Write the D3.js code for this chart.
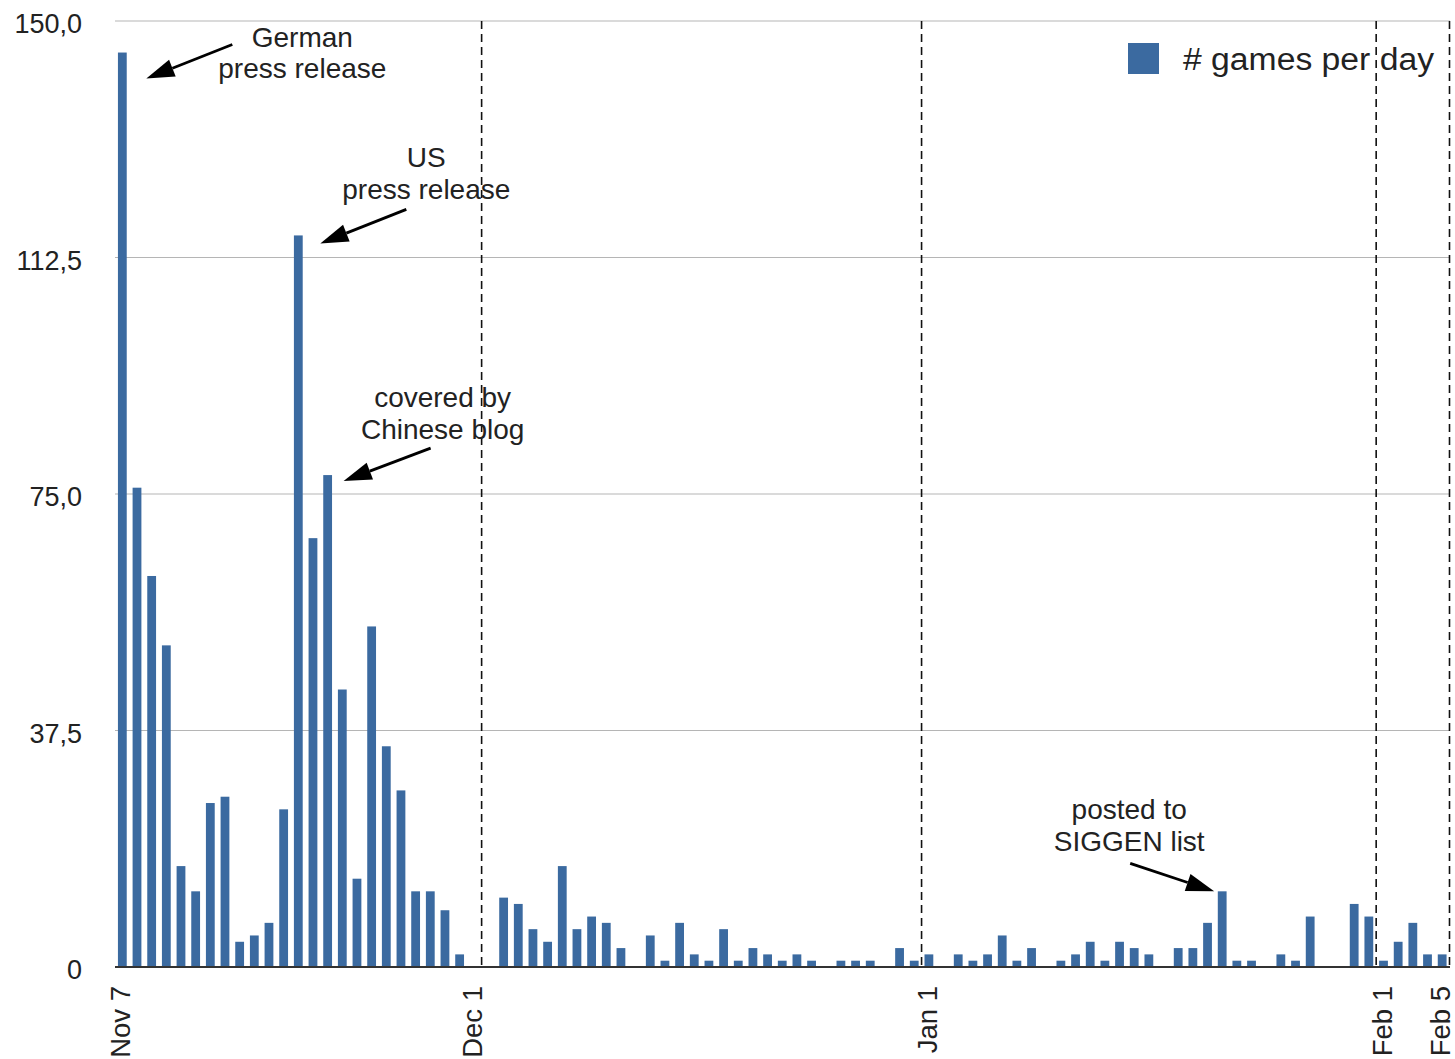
<!DOCTYPE html>
<html><head><meta charset="utf-8">
<script src="https://cdn.jsdelivr.net/npm/d3@7"></script>
<style>
html,body{margin:0;padding:0;background:#fff;}
svg{display:block;}
text{font-family:"Liberation Sans",Arial,Helvetica,sans-serif;fill:#222;}
</style>
</head><body>
<svg id="chart" width="1455" height="1059"></svg>
<script>
// ---- data ----
const novCounts = [145,76,62,51,16,12,26,27,4,5,7,25,116,68,78,44,14,54,35,28,12,12,9,2];
const decCounts = [0,0,11,10,6,4,16,6,8,7,3,0,5,1,7,2,1,6,1,3,2,1,2,1,0,1,1,1,0,3,1];
const janCounts = [2,0,2,1,2,5,1,3,0,1,2,4,1,4,3,2,0,3,3,7,12,1,1,0,2,1,8,0,0,10,8];
const febCounts = [1,4,7,2,2];
const firstDay = new Date(2009,10,7), lastDay = new Date(2010,1,5);
const xTickLabels = ["Nov 7","Dec 1","Jan 1","Feb 1","Feb 5"];
const yTicks = [0,37.5,75,112.5,150];
const yTickLabels = ["0","37,5","75,0","112,5","150,0"];
const dividerAfter = ["Dec 1","Dec 31","Jan 31","Feb 5"];
const seriesName = "# games per day";
const annotations = [
  {day:"Nov 7",  lines:["German","press release"]},
  {day:"Nov 19", lines:["US","press release"]},
  {day:"Nov 21", lines:["covered by","Chinese blog"]},
  {day:"Jan 21", lines:["posted to","SIGGEN list"]}
];

// ---- layout ----
const fmt = d3.timeFormat("%b %-d");
const days = d3.timeDay.range(firstDay, d3.timeDay.offset(lastDay,1)).map(fmt);
const counts = novCounts.concat(decCounts, janCounts, febCounts);
const data = days.map((d,i)=>({day:d, value:counts[i]}));

const plotLeft = 115, plotRight = 1449.5, plotTop = 21, plotBottom = 967;
const x = d3.scaleBand().domain(days).range([plotLeft,plotRight]).paddingInner(0.4).paddingOuter(0.2);
const y = d3.scaleLinear().domain([0,150]).range([plotBottom,plotTop]);
const bw = x.bandwidth(), step = x.step();
const cx = d => x(d) + bw/2;

const svg = d3.select("#chart");

// grid lines
svg.append("g").selectAll("line").data(yTicks.filter(t=>t>0)).join("line")
  .attr("x1",plotLeft).attr("x2",1450).attr("y1",d=>y(d)).attr("y2",d=>y(d))
  .attr("stroke","#b5b5b5").attr("stroke-width",1.2);

// bars
svg.append("g").selectAll("rect").data(data.filter(d=>d.value>0)).join("rect")
  .attr("x",d=>x(d.day)).attr("width",bw)
  .attr("y",d=>y(d.value)).attr("height",d=>y(0)-y(d.value))
  .attr("fill","#3b6aa0");

// dividers
svg.append("g").selectAll("line").data(dividerAfter).join("line")
  .attr("x1",d=>x(d)+bw+(step-bw)/2).attr("x2",d=>x(d)+bw+(step-bw)/2)
  .attr("y1",plotTop).attr("y2",plotBottom)
  .attr("stroke","#111").attr("stroke-width",1.6).attr("stroke-dasharray","8,5");

// zero axis line
svg.append("line").attr("x1",plotLeft).attr("x2",1450).attr("y1",y(0)).attr("y2",y(0))
  .attr("stroke","#333").attr("stroke-width",2);

// y labels
svg.append("g").selectAll("text").data(yTicks).join("text")
  .attr("x",82).attr("y",d=>y(d)).attr("dy","0.45em")
  .attr("text-anchor","end").attr("font-size",27)
  .text((d,i)=>yTickLabels[i]);

// x labels
svg.append("g").selectAll("text").data(xTickLabels).join("text")
  .attr("transform",d=>`translate(${cx(d)+8},986) rotate(-90)`)
  .attr("text-anchor","end").attr("font-size",27.5)
  .text(d=>d);

// legend
svg.append("rect").attr("x",1128).attr("y",43).attr("width",31).attr("height",31).attr("fill","#3b6aa0");
svg.append("text").attr("x",1183).attr("y",70).attr("font-size",31)
  .attr("textLength",251).attr("lengthAdjust","spacingAndGlyphs").text(seriesName);

// annotations (offsets relative to the target bar top)
const annotationLayout = [
  {tip:[24,26],  tail:[110,-8],  text:[180,-6]},
  {tip:[22,8],   tail:[108,-26], text:[128,-68]},
  {tip:[16,6],   tail:[103,-27], text:[115,-68]},
  {tip:[-8,0],   tail:[-92,-28], text:[-93,-72]}
];
const valueOf = d => counts[days.indexOf(d)];
const ag = svg.append("g");
annotations.forEach((a,i)=>{
  const L = annotationLayout[i];
  const bx = cx(a.day), by = y(valueOf(a.day));
  const tip = [bx+L.tip[0], by+L.tip[1]], tail = [bx+L.tail[0], by+L.tail[1]];
  const ang = Math.atan2(tip[1]-tail[1], tip[0]-tail[0]);
  const hl = 28, hw = 9;
  const base = [tip[0]-hl*Math.cos(ang), tip[1]-hl*Math.sin(ang)];
  ag.append("line").attr("x1",tail[0]).attr("y1",tail[1]).attr("x2",base[0]).attr("y2",base[1])
    .attr("stroke","#000").attr("stroke-width",2.8);
  const p1 = [base[0]+hw*Math.sin(ang), base[1]-hw*Math.cos(ang)];
  const p2 = [base[0]-hw*Math.sin(ang), base[1]+hw*Math.cos(ang)];
  ag.append("path").attr("d",`M${tip}L${p1}L${p2}Z`).attr("fill","#000");
  ag.selectAll(null).data(a.lines).join("text")
    .attr("x",bx+L.text[0]).attr("y",(d,j)=>by+L.text[1]+j*31.5)
    .attr("text-anchor","middle").attr("font-size",28).text(d=>d);
});
</script>
</body></html>
